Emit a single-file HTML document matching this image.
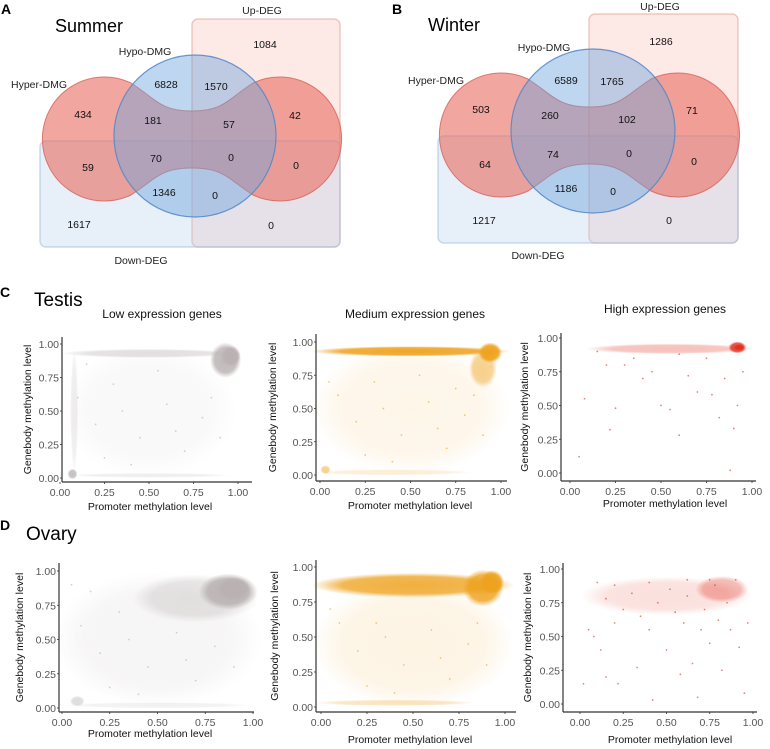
<!DOCTYPE html>
<html><head><meta charset="utf-8"><style>
html,body{margin:0;padding:0;background:#fff;width:770px;height:749px;overflow:hidden}
svg{display:block;font-family:"Liberation Sans",Arial,sans-serif}
</style></head><body>
<svg id="fig" width="770" height="749" viewBox="0 0 770 749" xmlns="http://www.w3.org/2000/svg">
<defs id="defs"></defs>
<g id="venns"></g>
<g id="scatters"></g>
</svg>
<script>
// ---------------- Venn data ----------------
const vennTitles = ["Summer", "Winter"];
const vennLetters = ["A", "B"];
const summerCounts = ["1084","6828","1570","434","181","57","42","59","70","0","0","1346","0","1617","0"];
const winterCounts = ["1286","6589","1765","503","260","102","71","64","74","0","0","1186","0","1217","0"];
const setLabels = ["Hyper-DMG","Hypo-DMG","Up-DEG","Down-DEG"];

// ---------------- Scatter data (values in data units 0..1) ----------------
const xTicks = [0, 0.25, 0.5, 0.75, 1];
const yTicks = [0, 0.25, 0.5, 0.75, 1];
const tickLabels = ["0.00","0.25","0.50","0.75","1.00"];
const panelTitles = ["Low expression genes","Medium expression genes","High expression genes"];
// density clusters: [cx, cy, rx, ry, strength]
const cLowClusters = [[0.5,0.5,0.45,0.45,0.08],[0.08,0.5,0.02,0.42,0.22],[0.5,0.93,0.45,0.03,0.4],[0.5,0.02,0.42,0.015,0.22],[0.07,0.03,0.025,0.035,0.8],[0.93,0.88,0.08,0.12,0.9],[0.96,0.91,0.05,0.07,1]];
const cMedClusters = [[0.5,0.5,0.5,0.45,0.1],[0.5,0.93,0.5,0.035,0.95],[0.9,0.8,0.07,0.13,0.5],[0.94,0.92,0.06,0.07,1],[0.03,0.04,0.025,0.03,0.5],[0.4,0.02,0.4,0.02,0.18]];
const cHighClusters = [[0.55,0.92,0.42,0.035,0.3],[0.92,0.93,0.045,0.04,0.9],[0.93,0.93,0.025,0.02,1]];
const dLowClusters = [[0.5,0.5,0.5,0.45,0.12],[0.7,0.8,0.3,0.16,0.35],[0.87,0.85,0.14,0.12,0.95],[0.9,0.87,0.08,0.08,1],[0.08,0.05,0.035,0.035,0.45],[0.5,0.02,0.45,0.02,0.18]];
const dMedClusters = [[0.5,0.45,0.5,0.42,0.12],[0.5,0.87,0.5,0.08,0.85],[0.88,0.85,0.1,0.12,0.9],[0.93,0.89,0.06,0.08,1],[0.4,0.03,0.4,0.02,0.28]];
const dHighClusters = [[0.5,0.8,0.45,0.13,0.15],[0.82,0.85,0.14,0.09,0.35]];
// sparse points: [x, y]
const cLowPoints = [[0.1,0.6],[0.2,0.4],[0.3,0.7],[0.45,0.3],[0.6,0.55],[0.7,0.2],[0.8,0.45],[0.25,0.15],[0.55,0.8],[0.85,0.6],[0.35,0.5],[0.65,0.35],[0.15,0.85],[0.9,0.3],[0.4,0.1]];
const cMedPoints = [[0.1,0.6],[0.2,0.4],[0.3,0.7],[0.45,0.3],[0.6,0.55],[0.7,0.2],[0.8,0.45],[0.25,0.15],[0.55,0.75],[0.85,0.6],[0.35,0.5],[0.65,0.35],[0.05,0.7],[0.9,0.3],[0.4,0.1],[0.75,0.65]];
const cHighPoints = [[0.05,0.12],[0.08,0.55],[0.22,0.32],[0.25,0.48],[0.3,0.8],[0.4,0.7],[0.45,0.75],[0.5,0.5],[0.55,0.47],[0.6,0.28],[0.65,0.72],[0.7,0.6],[0.78,0.58],[0.82,0.41],[0.85,0.7],[0.88,0.02],[0.9,0.33],[0.92,0.5],[0.2,0.8],[0.15,0.9],[0.35,0.85],[0.95,0.75],[0.75,0.85],[0.6,0.88]];
const dLowPoints = [[0.1,0.6],[0.2,0.4],[0.3,0.7],[0.45,0.3],[0.6,0.55],[0.7,0.2],[0.8,0.45],[0.25,0.15],[0.35,0.5],[0.65,0.35],[0.15,0.85],[0.9,0.3],[0.4,0.1],[0.05,0.9]];
const dMedPoints = [[0.1,0.6],[0.2,0.4],[0.3,0.6],[0.45,0.3],[0.6,0.55],[0.7,0.2],[0.8,0.45],[0.25,0.15],[0.85,0.6],[0.35,0.5],[0.65,0.35],[0.9,0.3],[0.4,0.1],[0.05,0.7]];
const dHighPoints = [[0.02,0.15],[0.05,0.55],[0.08,0.5],[0.1,0.9],[0.12,0.4],[0.15,0.2],[0.2,0.6],[0.22,0.15],[0.25,0.7],[0.3,0.82],[0.33,0.27],[0.35,0.65],[0.4,0.55],[0.42,0.03],[0.45,0.75],[0.5,0.4],[0.52,0.85],[0.55,0.68],[0.58,0.22],[0.6,0.6],[0.62,0.8],[0.65,0.3],[0.68,0.05],[0.7,0.55],[0.72,0.7],[0.75,0.45],[0.78,0.88],[0.8,0.62],[0.82,0.25],[0.85,0.75],[0.87,0.55],[0.9,0.92],[0.92,0.42],[0.95,0.08],[0.97,0.6],[0.2,0.88],[0.15,0.78],[0.4,0.9],[0.62,0.92],[0.75,0.92]];

const NS = "http://www.w3.org/2000/svg";
function mk(tag, attrs, parent){const e=document.createElementNS(NS,tag);for(const k in attrs)e.setAttribute(k,attrs[k]);parent.appendChild(e);return e;}
function txt(parent,x,y,s,size,opts){const t=mk("text",Object.assign({x:x,y:y,"font-size":size,fill:"#111"},opts||{}),parent);t.textContent=s;return t;}

// ---------------- Venns ----------------
const vennLayouts = [
 {letter:[1,14], title:[55,32], up:[192,19,148,228], down:[40,141,300,106], blue:[195,136,81], L:[105,139], R:[279,139], r:62, neckT:28, neckB:29,
  labels:[[39,88],[145,55],[262,14],[141,264]],
  nums:[[265,48],[166,88],[216,90],[83,118],[153,124],[229,128],[295,119],[88,171],[156,162],[231,161],[296,169],[164,196],[215,199],[79,228],[271,229]]},
 {letter:[392,14], title:[428,31], up:[589,14,149,229], down:[438,136,300,107], blue:[593,131,82], L:[502,135], R:[677,135], r:62, neckT:28, neckB:29,
  labels:[[436,84],[544,51],[660,10],[538,259]],
  nums:[[661,45],[566,84],[612,85],[481,113],[550,119],[627,123],[692,114],[485,168],[553,158],[629,157],[694,165],[566,192],[613,195],[484,224],[669,224]]}
];
const vg = document.getElementById("venns");
[summerCounts, winterCounts].forEach((counts,i)=>{
  const L = vennLayouts[i];
  const g = mk("g",{},vg);
  
  
  const lt = txt(g,L.letter[0],L.letter[1],vennLetters[i],14,{"font-weight":"bold",fill:"#000"});
  
  
  const tt = txt(g,L.title[0],L.title[1],vennTitles[i],18,{fill:"#000"});
  
  
  const up = mk("rect",{x:L.up[0],y:L.up[1],width:L.up[2],height:L.up[3],rx:6,fill:"rgba(248,190,180,0.32)",stroke:"rgba(225,160,150,0.55)","stroke-width":1.5},g);
  
  
  const dn = mk("rect",{x:L.down[0],y:L.down[1],width:L.down[2],height:L.down[3],rx:6,fill:"rgba(185,210,238,0.35)",stroke:"rgba(165,195,228,0.6)","stroke-width":1.5},g);
  
  
  const cy=L.L[1], r=L.r, dx=26, dy=56, mid=(L.L[0]+L.R[0])/2;
  const lx=L.L[0]+dx, rx=L.R[0]-dx;
  const d = `M${lx},${cy-dy} C${lx+25},${cy-40} ${mid-32},${cy-L.neckT} ${mid},${cy-L.neckT} C${mid+32},${cy-L.neckT} ${rx-25},${cy-40} ${rx},${cy-dy} A${r},${r} 0 1 1 ${rx},${cy+dy} C${rx-25},${cy+40} ${mid+32},${cy+L.neckB} ${mid},${cy+L.neckB} C${mid-32},${cy+L.neckB} ${lx+25},${cy+40} ${lx},${cy+dy} A${r},${r} 0 1 1 ${lx},${cy-dy} Z`;
  const hy = mk("path",{d:d,fill:"rgba(232,112,100,0.62)",stroke:"rgba(215,95,85,0.8)","stroke-width":1},g);
  
  
  const bc = mk("circle",{cx:L.blue[0],cy:L.blue[1],r:L.blue[2],fill:"rgba(110,165,220,0.45)",stroke:"rgba(80,135,200,0.85)","stroke-width":1.2},g);
  
  
  setLabels.forEach((s,j)=>{
    const t = txt(g,L.labels[j][0],L.labels[j][1],s,10.5,{fill:"#222","text-anchor":"middle"});
    
    
  });
  counts.forEach((c,j)=>{
    const t = txt(g,L.nums[j][0],L.nums[j][1],c,10.5,{fill:"#111","text-anchor":"middle"});
    
    
  });
});

// ---------------- Scatters ----------------
const sg = document.getElementById("scatters");
const defs = document.getElementById("defs");
const colors = ["#b9b1b2","#eea21e","#e0301e"];
const headers = [["C","Testis",0,297,34,306],["D","Ovary",0,530,26,540]];
headers.forEach(h=>{
  const a = txt(sg,h[2],h[3],h[0],14,{"font-weight":"bold",fill:"#000"});
  
  
  const b = txt(sg,h[4],h[5],h[1],19,{fill:"#000"});
  
  
});
colors.forEach((c,i)=>{
  const rg = mk("radialGradient",{id:"rg"+i},defs);
  mk("stop",{offset:"0%","stop-color":c,"stop-opacity":1},rg);
  mk("stop",{offset:"70%","stop-color":c,"stop-opacity":0.9},rg);
  mk("stop",{offset:"100%","stop-color":c,"stop-opacity":0},rg);
});
const panels = [
 {clusters:cLowClusters, points:cLowPoints, col:0, title:0, axX:62, axTop:337, axBot:482, axRight:252, x0:60, x1:238, y0:478, y1:344, ylab:27, xlabY:510, xlabX:150, titleY:318, titleX:162},
 {clusters:cMedClusters, points:cMedPoints, col:1, title:1, axX:316, axTop:334, axBot:481, axRight:507, x0:320, x1:501, y0:475, y1:342, ylab:272, xlabY:509, xlabX:410, titleY:318, titleX:415},
 {clusters:cHighClusters, points:cHighPoints, col:2, title:2, axX:561, axTop:333, axBot:481, axRight:756, x0:570, x1:752, y0:473, y1:338, ylab:524, xlabY:507, xlabX:665, titleY:313, titleX:665},
 {clusters:dLowClusters, points:dLowPoints, col:0, title:-1, axX:59, axTop:563, axBot:712, axRight:254, x0:62, x1:253, y0:708, y1:571, ylab:19, xlabY:737, xlabX:150},
 {clusters:dMedClusters, points:dMedPoints, col:1, title:-1, axX:316, axTop:560, axBot:712, axRight:516, x0:321, x1:505, y0:707, y1:567, ylab:274, xlabY:743, xlabX:410},
 {clusters:dHighClusters, points:dHighPoints, col:2, title:-1, axX:563, axTop:563, axBot:712, axRight:757, x0:580, x1:753, y0:704, y1:569, ylab:527, xlabY:743, xlabX:670}
];
panels.forEach((P,pi)=>{
  const g = mk("g",{},sg);
  
  
  const sx = v => P.x0 + v*(P.x1-P.x0);
  const sy = v => P.y0 + v*(P.y1-P.y0);
  const pxX = v => v*(P.x1-P.x0), pxY = v => v*(P.y0-P.y1);
  const col = colors[P.col];
  P.clusters.forEach(c=>{
    const e = mk("ellipse",{cx:sx(c[0]),cy:sy(c[1]),rx:pxX(c[2])*1.1,ry:pxY(c[3])*1.1,fill:"url(#rg"+P.col+")",opacity:c[4]},g);
    
    
  });
  P.points.forEach(p=>{
    const e = mk("circle",{cx:sx(p[0]),cy:sy(p[1]),r:0.9,fill:col,opacity:0.6},g);
    
    
  });
  const ya = mk("line",{x1:P.axX,y1:P.axTop,x2:P.axX,y2:P.axBot,stroke:"#333","stroke-width":1.2},g);
  
  
  const xa = mk("line",{x1:P.axX,y1:P.axBot,x2:P.axRight,y2:P.axBot,stroke:"#333","stroke-width":1.2},g);
  
  
  xTicks.forEach((v,j)=>{
    mk("line",{x1:sx(v),y1:P.axBot,x2:sx(v),y2:P.axBot+2,stroke:"#333","stroke-width":0.8},g);
    const t = txt(g,sx(v),P.axBot+14,tickLabels[j],10.5,{fill:"#555","text-anchor":"middle"});
    
    
  });
  yTicks.forEach((v,j)=>{
    mk("line",{x1:P.axX-2,y1:sy(v),x2:P.axX,y2:sy(v),stroke:"#333","stroke-width":0.8},g);
    const t = txt(g,P.axX-3,sy(v)+4,tickLabels[j],10.5,{fill:"#555","text-anchor":"end"});
    
    
  });
  const yl = txt(g,0,0,"Genebody methylation level",10.5,{fill:"#111","text-anchor":"middle",transform:`translate(${P.ylab+4},${(P.axTop+P.axBot)/2}) rotate(-90)`});
  
  
  const xl = txt(g,P.xlabX,P.xlabY,"Promoter methylation level",10.5,{fill:"#111","text-anchor":"middle"});
  
  
  if(P.title>=0){
    const tt = txt(g,P.titleX,P.titleY,panelTitles[P.title],12,{fill:"#111","text-anchor":"middle"});
    
    
  }
});
</script>
</body></html>
